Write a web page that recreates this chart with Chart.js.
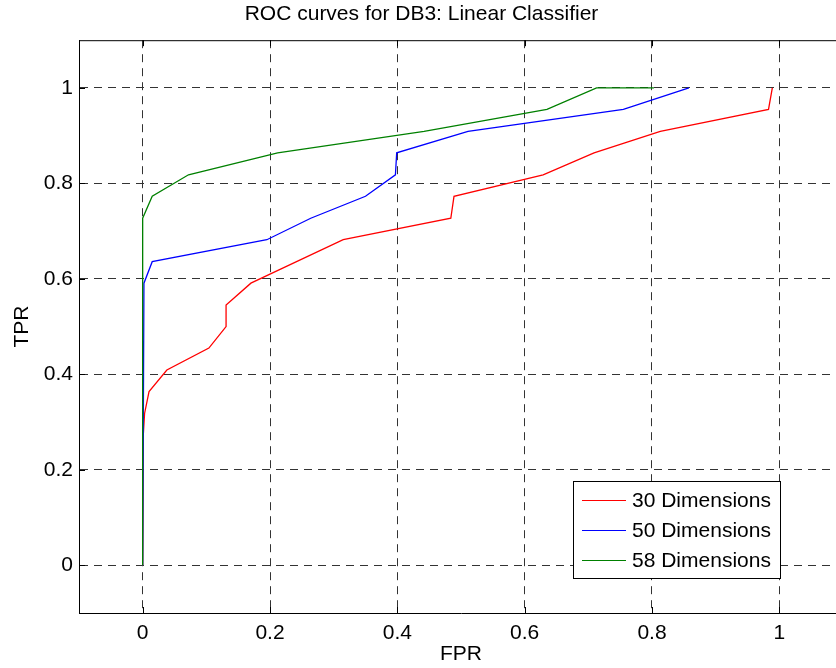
<!DOCTYPE html>
<html>
<head>
<meta charset="utf-8">
<script src="https://cdn.jsdelivr.net/npm/chart.js@4/dist/chart.umd.min.js"></script>
<style>
html, body { margin: 0; padding: 0; overflow: hidden; background: #fff; }
#wrap { position: absolute; left: 0; top: 0; width: 850px; height: 668px; }
</style>
</head>
<body>
<div id="wrap"><canvas id="myChart" width="850" height="668"></canvas></div>
<script>
// ROC curve data
const seriesLabels = ['30 Dimensions', '50 Dimensions', '58 Dimensions'];
const seriesColors = ['#ff0000', '#0000ff', '#008000'];

const fpr30 = [0, 0.001, 0.003, 0.01, 0.038, 0.104, 0.131, 0.131, 0.17, 0.315, 0.484, 0.489, 0.629, 0.709, 0.813, 0.983, 0.989];
const tpr30 = [0, 0.273, 0.318, 0.364, 0.409, 0.455, 0.5, 0.545, 0.591, 0.682, 0.727, 0.773, 0.818, 0.864, 0.909, 0.955, 1];

const fpr50 = [0, 0.002, 0.015, 0.195, 0.264, 0.35, 0.397, 0.399, 0.511, 0.755, 0.858];
const tpr50 = [0, 0.591, 0.636, 0.682, 0.727, 0.773, 0.818, 0.864, 0.909, 0.955, 1];

const fpr58 = [0, 0, 0.015, 0.072, 0.212, 0.442, 0.635, 0.713, 0.803];
const tpr58 = [0, 0.727, 0.773, 0.818, 0.864, 0.909, 0.955, 1, 1];

const xTicks = [0, 0.2, 0.4, 0.6, 0.8, 1];
const yTicks = [0, 0.2, 0.4, 0.6, 0.8, 1];

const FONT = '"Liberation Sans", Arial, sans-serif';

function toPoints(xs, ys) {
  return xs.map((v, i) => ({x: v, y: ys[i]}));
}

// box edges, inward ticks and the legend, matlab style
const matlabFrame = {
  id: 'matlabFrame',
  afterDraw(chart) {
    const ctx = chart.ctx;
    const a = chart.chartArea;
    const xs = chart.scales.x, ys = chart.scales.y;
    ctx.save();
    ctx.strokeStyle = '#000';
    ctx.lineWidth = 1;
    ctx.beginPath();
    ctx.moveTo(a.left, a.top + 0.5); ctx.lineTo(a.right, a.top + 0.5);
    ctx.moveTo(a.right - 0.5, a.top); ctx.lineTo(a.right - 0.5, a.bottom);
    xTicks.forEach(v => {
      const px = Math.round(xs.getPixelForValue(v)) + 0.5;
      ctx.moveTo(px, a.bottom); ctx.lineTo(px, a.bottom - 6);
      ctx.moveTo(px, a.top); ctx.lineTo(px, a.top + 6);
    });
    yTicks.forEach(v => {
      const py = Math.round(ys.getPixelForValue(v)) + 0.5;
      ctx.moveTo(a.left, py); ctx.lineTo(a.left + 6, py);
      ctx.moveTo(a.right, py); ctx.lineTo(a.right - 6, py);
    });
    ctx.stroke();

    // legend box
    const lx = 573, ly = 481, lw = 207, lh = 97;
    ctx.fillStyle = '#fff';
    ctx.fillRect(lx, ly, lw, lh);
    ctx.strokeRect(lx + 0.5, ly + 0.5, lw, lh);
    ctx.font = '21px ' + FONT;
    ctx.textBaseline = 'middle';
    ctx.textAlign = 'left';
    chart.data.datasets.forEach((ds, i) => {
      const cy = ly + 19 + i * 30;
      ctx.strokeStyle = ds.borderColor;
      ctx.beginPath();
      ctx.moveTo(lx + 9, cy + 0.5); ctx.lineTo(lx + 53, cy + 0.5);
      ctx.stroke();
      ctx.fillStyle = '#000';
      ctx.fillText(ds.label, lx + 59, cy + 1);
    });
    ctx.restore();
  }
};

const ctx = document.getElementById('myChart');

var chart = new Chart(ctx, {
  type: 'scatter',
  data: {
    datasets: [
      {label: seriesLabels[0], data: toPoints(fpr30, tpr30), borderColor: seriesColors[0], order: 2},
      {label: seriesLabels[1], data: toPoints(fpr50, tpr50), borderColor: seriesColors[1], order: 1},
      {label: seriesLabels[2], data: toPoints(fpr58, tpr58), borderColor: seriesColors[2], order: 0}
    ]
  },
  options: {
    responsive: false,
    animation: false,
    devicePixelRatio: 1,
    showLine: true,
    layout: {padding: {left: 0, right: 7, top: 0, bottom: 0}},
    elements: {
      point: {radius: 0, hoverRadius: 0},
      line: {borderWidth: 1.3, tension: 0, fill: false}
    },
    plugins: {
      legend: {display: false},
      tooltip: {enabled: false},
      title: {
        display: true,
        text: 'ROC curves for DB3: Linear Classifier',
        color: '#000',
        font: {family: FONT, size: 21, weight: 'normal'},
        padding: {top: 2, bottom: 13}
      }
    },
    scales: {
      x: {
        type: 'linear',
        position: 'bottom',
        min: -0.1,
        max: 1.1,
        afterBuildTicks: s => { s.ticks = xTicks.map(v => ({value: v})); },
        afterFit: s => { s.height = 55; },
        ticks: {color: '#000', font: {family: FONT, size: 21}, padding: 8, maxRotation: 0,
                callback: v => String(v)},
        grid: {color: '#333', lineWidth: 1, drawTicks: false, borderDash: [8, 6]},
        border: {display: true, color: '#000', width: 1, dash: [8, 6]},
        title: {display: true, text: 'FPR', color: '#000',
                font: {family: FONT, size: 21}, padding: {top: 0, bottom: 1}}
      },
      y: {
        type: 'linear',
        min: -0.1,
        max: 1.1,
        afterBuildTicks: s => { s.ticks = yTicks.map(v => ({value: v})); },
        afterFit: s => { s.width = 79; },
        ticks: {color: '#000', font: {family: FONT, size: 21}, padding: 6,
                callback: v => String(v)},
        grid: {color: '#333', lineWidth: 1, drawTicks: false, borderDash: [8, 6]},
        border: {display: true, color: '#000', width: 1, dash: [8, 6]},
        title: {display: true, text: 'TPR', color: '#000',
                font: {family: FONT, size: 21}, padding: {top: 10, bottom: 0}}
      }
    }
  },
  plugins: [matlabFrame]
});
</script>
</body>
</html>
